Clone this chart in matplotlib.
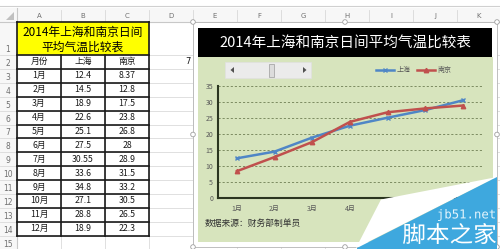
import matplotlib
matplotlib.use('Agg')
import matplotlib.pyplot as plt
from matplotlib.patches import Rectangle, Polygon, Circle, PathPatch
from matplotlib.textpath import TextPath
from matplotlib.font_manager import FontProperties
from matplotlib.transforms import Affine2D

plt.rcParams['font.family'] = ['Noto Sans CJK SC', 'DejaVu Sans']

# ---------------- data ----------------
months = ['1月', '2月', '3月', '4月', '5月', '6月', '7月', '8月', '9月', '10月', '11月', '12月']
shanghai = [12.4, 14.5, 18.9, 22.6, 25.1, 27.5, 30.55, 33.6, 34.8, 27.1, 28.8, 18.9]
nanjing = [8.37, 12.8, 17.5, 23.8, 26.8, 28, 28.9, 31.5, 33.2, 30.5, 26.5, 22.3]
header = ['月份', '上海', '南京']
series_names = ['上海', '南京']
table_title = ['2014年上海和南京日间', '平均气温比较表']
chart_title = '2014年上海和南京日间平均气温比较表'
source_note = '数据来源：财务部制单员'
months_shown = 7
col_letters = ['A', 'B', 'C', 'D', 'E', 'F', 'G', 'H', 'I', 'J', 'K']
y_ticks = [0, 5, 10, 15, 20, 25, 30, 35]

# ---------------- figure ----------------
W, H = 500, 249
fig = plt.figure(figsize=(5, 2.49), dpi=100)
bg = fig.add_axes([0, 0, 1, 1], zorder=0)
bg.set_xlim(0, W)
bg.set_ylim(H, 0)
bg.axis('off')

grid_c = '#dadada'
col_edges = [17 + 44 * k for k in range(12)]
row_edges = [22, 55] + [55 + 13.9 * k for k in range(1, 15)]

# top strip & header row
bg.plot([0, W], [6, 6], color='#d0d0d0', lw=0.8)
bg.add_patch(Rectangle((0, 8), W, 14, facecolor='#f7f7f7', edgecolor='none'))
bg.plot([0, W], [22, 22], color='#c8c8c8', lw=0.8)
bg.add_patch(Rectangle((0, 22), 17, H, facecolor='#f7f7f7', edgecolor='none'))
bg.plot([17, 17], [8, H], color='#c8c8c8', lw=0.8)
bg.add_patch(Polygon([[14, 12], [14, 20], [6, 20]], closed=True, facecolor='#c0c0c0', edgecolor='none'))
for i, letter in enumerate(col_letters):
    cx = (col_edges[i] + col_edges[i + 1]) / 2
    bg.text(cx, 15.5, letter, ha='center', va='center', fontsize=5, color='#707070',
            family='DejaVu Sans')
    bg.plot([col_edges[i + 1]] * 2, [10, 22], color='#d8d8d8', lw=0.6)

# cell grid
for y in row_edges[1:]:
    bg.plot([0, W], [y, y], color=grid_c, lw=0.6, zorder=1)
for x in col_edges[1:]:
    bg.plot([x, x], [22, H], color=grid_c, lw=0.6, zorder=1)

# row numbers (bottom aligned like Excel)
for r in range(15):
    bg.text(8, row_edges[r + 1] - 5.5, str(r + 1), ha='center', va='center',
            fontsize=5.5, color='#707070', family='DejaVu Sans')

# table
tx0, tx1 = col_edges[0], col_edges[3]
bg.add_patch(Rectangle((tx0, row_edges[0]), tx1 - tx0, row_edges[1] - row_edges[0],
                       facecolor='#ffff00', edgecolor='none', zorder=2))
bg.text((tx0 + tx1) / 2, 32, table_title[0], ha='center', va='center', fontsize=8.5, color='#000000', zorder=3)
bg.text((tx0 + tx1) / 2, 47, table_title[1], ha='center', va='center', fontsize=8.5, color='#000000', zorder=3)
rows = [header] + [[m, f'{a:g}', f'{b:g}'] for m, a, b in zip(months, shanghai, nanjing)]
for r, row in enumerate(rows):
    cy = (row_edges[r + 1] + row_edges[r + 2]) / 2
    for c, val in enumerate(row):
        cx = (col_edges[c] + col_edges[c + 1]) / 2
        bg.text(cx, cy, val, ha='center', va='center', fontsize=6.3, color='#1a1a1a', zorder=3)
tb_c = '#1a1a1a'
for y in row_edges[:15]:
    bg.plot([tx0, tx1], [y, y], color=tb_c, lw=1.2, zorder=3, solid_capstyle='projecting')
for x in [tx0, tx1]:
    bg.plot([x, x], [row_edges[0], row_edges[14]], color=tb_c, lw=1.2, zorder=3)
for x in col_edges[1:3]:
    bg.plot([x, x], [row_edges[1], row_edges[14]], color=tb_c, lw=1.2, zorder=3)

# linked cell D2
bg.text(col_edges[4] - 2, (row_edges[1] + row_edges[2]) / 2, str(months_shown), ha='right', va='center',
        fontsize=6, color='#1a1a1a', family='DejaVu Sans', zorder=3)

# chart area
bg.add_patch(Rectangle((193, 22), 304, 225, facecolor='white', edgecolor='#b4b4b4', lw=0.6, zorder=4))
for hx in [193, 345, 497]:
    for hy in [22, 134.5, 247]:
        if hx == 345 and hy == 134.5:
            continue
        bg.add_patch(Circle((hx, hy), 2.3, facecolor='white', edgecolor='#a0a0a0', lw=0.6, zorder=5))
bg.add_patch(Rectangle((198, 28), 294, 29, facecolor='#000000', edgecolor='none', zorder=5))
bg.text(345, 42.5, chart_title, ha='center', va='center', fontsize=10.5, color='white', zorder=6)
bg.add_patch(Rectangle((198, 57), 295, 185, facecolor='#d7e4bd', edgecolor='none', zorder=5))

# scroll bar
bg.add_patch(Rectangle((225, 62), 86, 16, facecolor='#ebebeb', edgecolor='#e0e0e0', lw=0.5, zorder=6))
bg.add_patch(Polygon([[234, 67], [234, 73], [230.5, 70]], closed=True, facecolor='#505050', edgecolor='none', zorder=7))
bg.add_patch(Polygon([[303, 67], [303, 73], [306.5, 70]], closed=True, facecolor='#505050', edgecolor='none', zorder=7))
track0, track1 = 238, 299
thumb_x = track0 + (track1 - track0) * (months_shown - 1) / (len(months) - 1)
bg.add_patch(Rectangle((thumb_x - 2.5, 63.5), 5, 13, facecolor='#dcdcdc', edgecolor='#a8a8a8', lw=0.6, zorder=7))

bg.text(205, 223, source_note, ha='left', va='center', fontsize=6.3, color='#333333', zorder=6)

# ---------------- chart axes ----------------
ax = fig.add_axes([218 / W, 51 / H, 264 / W, 112 / H], zorder=2)
ax.set_facecolor('none')
x = list(range(1, months_shown + 1))
l1, = ax.plot(x, shanghai[:months_shown], color='#4f86c6', lw=1.8, marker='x', ms=3.2, mew=1.0,
              label=series_names[0], zorder=3)
l2, = ax.plot(x, nanjing[:months_shown], color='#c0504d', lw=1.8, marker='^', ms=3.2,
              label=series_names[1], zorder=3)
ax.set_xlim(0.5, months_shown + 0.5)
ax.set_ylim(0, 35)
ax.set_yticks(y_ticks)
ax.set_yticklabels([str(t) for t in y_ticks])
ax.set_xticks(x)
ax.set_xticklabels(months[:months_shown])
for t in y_ticks[1:]:
    ax.axhline(t, color='#7d8c62', lw=0.7, ls=(0, (2.2, 2.0)), zorder=1, clip_on=False)
for s in ['top', 'right']:
    ax.spines[s].set_visible(False)
for s in ['left', 'bottom']:
    ax.spines[s].set_color('#2b3620')
    ax.spines[s].set_linewidth(1.5)
ax.tick_params(axis='both', length=0, labelsize=5, labelcolor='#595959')
ax.tick_params(axis='y', pad=3.6)
ax.tick_params(axis='x', pad=5)
leg = ax.legend(handles=[l1, l2], loc='center', bbox_to_anchor=(0.742, 1.143), ncol=2, frameon=False,
                fontsize=5, handlelength=2.6, handletextpad=0.3, columnspacing=1.0, borderaxespad=0)
for t in leg.get_texts():
    t.set_color('#595959')

# ---------------- watermark overlay ----------------
ov = fig.add_axes([0, 0, 1, 1], zorder=5)
ov.set_xlim(0, W)
ov.set_ylim(H, 0)
ov.axis('off')
ov.patch.set_alpha(0)
ov.add_patch(Polygon([[381, 199.5], [497, 177], [356, 248]], closed=True, facecolor='white', edgecolor='none'))
ov.add_patch(Polygon([[357, 248], [497, 177], [497, 249], [357, 249]], closed=True,
                     facecolor='#3ea8de', edgecolor='none'))


def fit_text(axis, s, fam, x0, x1, y0, y1, color):
    tp = TextPath((0, 0), s, size=1, prop=FontProperties(family=fam))
    bb = tp.get_extents()
    sx = (x1 - x0) / bb.width
    sy = (y1 - y0) / bb.height
    tr = Affine2D().translate(-bb.x0, -bb.y1).scale(sx, -sy).translate(x0, y0)
    axis.add_patch(PathPatch(tr.transform_path(tp), facecolor=color, edgecolor='none', lw=0))


fit_text(ov, 'jb51.net', 'DejaVu Sans Mono', 438, 495, 209, 221, '#e3f4fc')
fit_text(ov, '脚本之家', 'Noto Sans CJK SC', 403, 496, 223, 244, '#ffffff')

fig.savefig('out.png', dpi=100)
